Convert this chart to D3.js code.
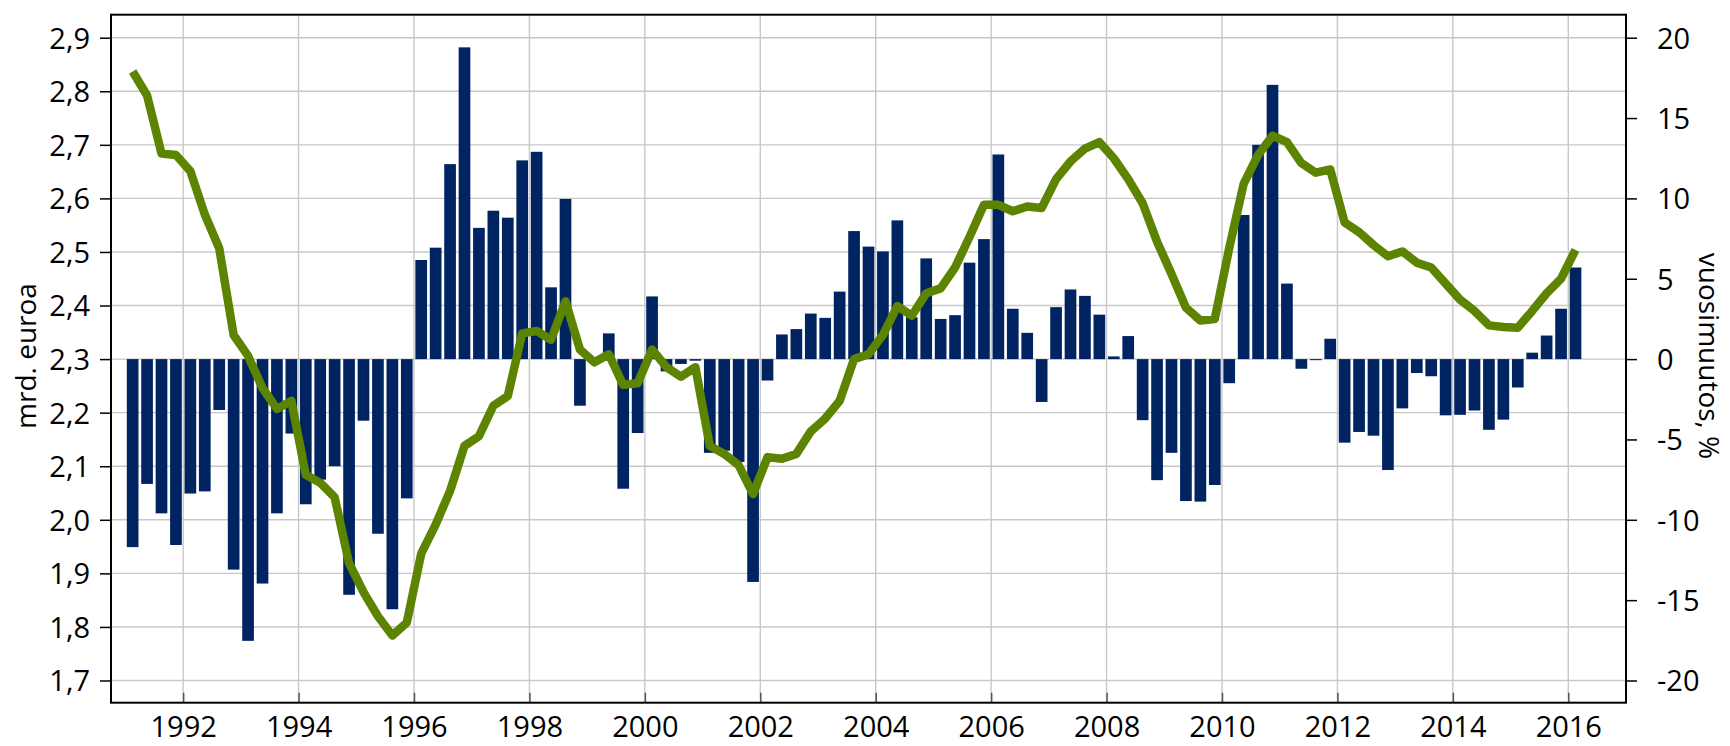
<!DOCTYPE html>
<html>
<head>
<meta charset="utf-8">
<script src="https://cdn.jsdelivr.net/npm/d3@7/dist/d3.min.js"></script>
<style>
  html, body { margin: 0; padding: 0; background: #fff; }
  svg { display: block; }
  text { font-family: "Open Sans", "Noto Sans", sans-serif; fill: #000; }
</style>
</head>
<body>
<svg id="chart" width="1730" height="746"></svg>
<script>
// ---- Data ----
const startYear = 1991;
const endYear = 2016;
// quarterly values, 1991Q1 .. 2016Q1 (mrd. euroa)
const barValues = [
  1.949, 2.067, 2.012, 1.953,
  2.049, 2.053, 2.205, 1.907,
  1.774, 1.881, 2.012, 2.161,
  2.029, 2.075, 2.100, 1.860,
  2.185, 1.974, 1.833, 2.040,
  2.485, 2.508, 2.664, 2.882,
  2.545, 2.577, 2.564, 2.671,
  2.687, 2.434, 2.599, 2.213,
  2.297, 2.348, 2.058, 2.162,
  2.417, 2.277, 2.291, 2.297,
  2.125, 2.129, 2.108, 1.884,
  2.260, 2.346, 2.356, 2.385,
  2.377, 2.426, 2.539, 2.510,
  2.501, 2.559, 2.378, 2.488,
  2.375, 2.382, 2.480, 2.524,
  2.682, 2.394, 2.349, 2.220,
  2.397, 2.430, 2.418, 2.383,
  2.305, 2.343, 2.186, 2.074,
  2.125, 2.035, 2.034, 2.065,
  2.255, 2.569, 2.700, 2.812,
  2.441, 2.282, 2.298, 2.338,
  2.144, 2.164, 2.157, 2.093,
  2.208, 2.274, 2.268, 2.195,
  2.196, 2.204, 2.168, 2.187,
  2.247, 2.312, 2.344, 2.394,
  2.471
];
// year-on-year change, % (right axis)
const lineValues = [
  17.9, 16.4, 12.8, 12.7,
  11.7, 9.0, 6.9, 1.5,
  0.2, -1.8, -3.1, -2.6,
  -7.2, -7.7, -8.6, -12.7,
  -14.5, -16.0, -17.2, -16.4,
  -12.1, -10.3, -8.2, -5.4,
  -4.8, -2.9, -2.3, 1.6,
  1.75, 1.2, 3.6, 0.6,
  -0.2, 0.3, -1.6, -1.5,
  0.6, -0.5, -1.1, -0.5,
  -5.4, -5.9, -6.6, -8.4,
  -6.1, -6.2, -5.9, -4.5,
  -3.7, -2.6, 0.0, 0.3,
  1.5, 3.3, 2.7, 4.1,
  4.4, 5.7, 7.6, 9.6,
  9.6, 9.2, 9.5, 9.4,
  11.2, 12.3, 13.1, 13.5,
  12.5, 11.2, 9.7, 7.3,
  5.3, 3.2, 2.4, 2.5,
  6.9, 10.9, 12.7, 13.9,
  13.5, 12.2, 11.6, 11.8,
  8.5, 7.9, 7.1, 6.4,
  6.7, 6.0, 5.7, 4.7,
  3.7, 3.0, 2.1, 2.0,
  1.95, 3.0, 4.1, 5.0,
  6.8
];
const leftTicks = [1.7, 1.8, 1.9, 2.0, 2.1, 2.2, 2.3, 2.4, 2.5, 2.6, 2.7, 2.8, 2.9];
const rightTicks = [-20, -15, -10, -5, 0, 5, 10, 15, 20];
const yearTicks = [1992, 1994, 1996, 1998, 2000, 2002, 2004, 2006, 2008, 2010, 2012, 2014, 2016];
const barBase = 2.3;
const leftTitle = "mrd. euroa";
const rightTitle = "vuosimuutos, %";

// quarter categories (time of quarter start, in years)
const quarters = barValues.map((_, i) => startYear + i / 4);
const data = quarters.map((t, i) => ({ t, bar: barValues[i], line: lineValues[i] }));

// ---- Layout ----
const plot = { left: 111, right: 1626, top: 14.7, bottom: 702.7 };
const x = d3.scaleLinear().domain([1990.75, 2017]).range([plot.left, plot.right]);
const yL = d3.scaleLinear().domain([1.7, 2.9]).range([680.5, 37.7]);
const yR = d3.scaleLinear().domain([-20, 20]).range([680.5, 37.7]);

const svg = d3.select("#chart");
const fontSize = 29;
const fmtL = d => d.toFixed(1).replace(".", ",");

// horizontal grid
svg.append("g").selectAll("line").data(leftTicks).join("line")
  .attr("x1", plot.left).attr("x2", plot.right)
  .attr("y1", d => yL(d)).attr("y2", d => yL(d))
  .attr("stroke", "#c8c8c8").attr("stroke-width", 1.4);
// vertical grid
svg.append("g").selectAll("line").data(yearTicks).join("line")
  .attr("x1", d => x(d)).attr("x2", d => x(d))
  .attr("y1", plot.top).attr("y2", plot.bottom)
  .attr("stroke", "#c8c8c8").attr("stroke-width", 1.4);

// bars
const qw = x(1.25) - x(1);
const bw = qw * 0.81;
svg.append("g").selectAll("rect").data(data).join("rect")
  .attr("x", d => x(d.t + 0.125) - bw / 2)
  .attr("width", bw)
  .attr("y", d => yL(Math.max(d.bar, barBase)))
  .attr("height", d => Math.abs(yL(d.bar) - yL(barBase)))
  .attr("fill", "#002461");

// line
const line = d3.line().x(d => x(d.t + 0.125)).y(d => yR(d.line));
svg.append("path").datum(data)
  .attr("d", line)
  .attr("fill", "none")
  .attr("stroke", "#5c8400")
  .attr("stroke-width", 8.5)
  .attr("stroke-linejoin", "round")
  .attr("stroke-linecap", "butt");

// axes (ticks + labels)
const axL = d3.axisLeft(yL).tickValues(leftTicks).tickFormat(fmtL).tickSize(11).tickPadding(10);
const gL = svg.append("g").attr("transform", `translate(${plot.left},0)`).call(axL);
const axR = d3.axisRight(yR).tickValues(rightTicks).tickFormat(d => String(d)).tickSize(11).tickPadding(20);
const gR = svg.append("g").attr("transform", `translate(${plot.right},0)`).call(axR);
const axB = d3.axisBottom(x).tickValues(yearTicks).tickFormat(d3.format("d")).tickSize(-10).tickPadding(20);
const gB = svg.append("g").attr("transform", `translate(0,${plot.bottom})`).call(axB);
[gL, gR, gB].forEach(g => {
  g.select(".domain").remove();
  g.selectAll(".tick line").attr("stroke", "#000").attr("stroke-width", 1.5);
  g.selectAll(".tick text").style("font-family", '"Open Sans", sans-serif')
    .attr("font-size", fontSize).attr("fill", "#000");
});
gL.selectAll(".tick text").attr("dy", "0.36em");
gR.selectAll(".tick text").attr("dy", "0.36em");
gB.selectAll(".tick text").attr("y", 34).attr("dy", 0);
gB.selectAll(".tick line").attr("stroke", "#555");

// frame
svg.append("rect")
  .attr("x", plot.left).attr("y", plot.top)
  .attr("width", plot.right - plot.left).attr("height", plot.bottom - plot.top)
  .attr("fill", "none").attr("stroke", "#000").attr("stroke-width", 2);

// axis titles
svg.append("text")
  .attr("transform", `translate(36,356) rotate(-90)`)
  .attr("text-anchor", "middle")
  .attr("font-size", 28)
  .text(leftTitle);
svg.append("text")
  .attr("transform", `translate(1699,356) rotate(90)`)
  .attr("text-anchor", "middle")
  .attr("font-size", 28)
  .text(rightTitle);
</script>
</body>
</html>
